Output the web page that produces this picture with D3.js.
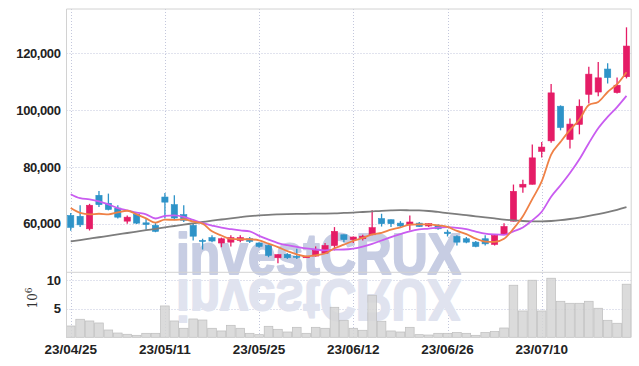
<!DOCTYPE html>
<html>
<head>
<meta charset="utf-8">
<script src="https://cdn.jsdelivr.net/npm/d3@7"></script>
<style>
  body { margin: 0; background: #fff; }
  svg { display: block; }
</style>
</head>
<body>
<div id="chart"></div>
<script>
// trading days shown on the chart
const dates = [
  "2023-04-25","2023-04-26","2023-04-27","2023-04-28","2023-05-02","2023-05-03","2023-05-04","2023-05-08","2023-05-09","2023-05-10",
  "2023-05-11","2023-05-12","2023-05-15","2023-05-16","2023-05-17","2023-05-18","2023-05-19","2023-05-22","2023-05-23","2023-05-24",
  "2023-05-25","2023-05-26","2023-05-30","2023-05-31","2023-06-01","2023-06-02","2023-06-05","2023-06-07","2023-06-08","2023-06-09",
  "2023-06-12","2023-06-13","2023-06-14","2023-06-15","2023-06-16","2023-06-19","2023-06-20","2023-06-21","2023-06-22","2023-06-23",
  "2023-06-26","2023-06-27","2023-06-28","2023-06-29","2023-06-30","2023-07-03","2023-07-04","2023-07-05","2023-07-06","2023-07-07",
  "2023-07-10","2023-07-11","2023-07-12","2023-07-13","2023-07-14","2023-07-17","2023-07-18","2023-07-19","2023-07-20","2023-07-21"
];
const open = [
  62900,62600,58200,70000,67200,65500,60900,63300,60300,59400,
  69400,66700,63200,59400,54100,55100,53200,53500,54100,54700,
  53200,52300,48000,49200,48500,48000,48600,49600,52300,56100,
  54400,54700,56100,61800,61400,60200,59600,60200,59200,59400,
  57000,55500,54700,53500,54700,52700,56200,60900,72900,73900,
  85500,89200,101400,89700,95000,105600,106400,114500,106200,111800
];
const high = [
  63800,66500,67000,71500,70600,66500,62900,63500,61800,60200,
  70800,70000,66500,60000,54700,55900,55100,55900,55900,55300,
  53500,52700,49200,49600,51200,48700,52000,53200,58800,56200,
  55500,56100,64700,63500,61500,60900,62900,60600,60200,59800,
  57900,55900,55300,53900,55900,56100,60200,73800,75500,87900,
  88800,109200,101700,97100,103800,115300,117000,116500,111500,129200
];
const low = [
  57500,58800,57600,65900,64700,61800,60000,59900,57900,57000,
  61800,61200,60600,54100,50900,53500,51700,52000,53500,53200,
  51500,48200,46100,47600,47600,47900,48400,49300,50600,53500,
  53200,54100,55900,59000,58800,58800,57600,58800,58800,57900,
  55500,52300,53100,51700,52300,52300,56100,60800,70900,73800,
  83300,88500,92900,86500,91500,102400,104900,109400,105900,111200
];
const close = [
  58700,59600,66500,66700,65000,62300,62300,60200,59700,57300,
  67600,62000,61200,55600,53800,53900,54700,55100,55100,53800,
  52000,48800,49100,48000,48200,48400,50600,52300,57300,54400,
  55300,55600,58600,60000,60000,59200,60600,59000,60000,58200,
  56500,53500,53500,52000,52900,55900,59000,71400,73900,83200,
  87000,106100,93900,95100,101400,112700,111400,111500,108800,122600
];
// volume in millions of shares
const volume = [
  1.98,3.16,2.86,2.51,1.28,0.75,0.53,0.35,0.70,0.70,
  5.49,2.86,1.58,3.21,3.03,1.58,1.11,2.10,1.58,0.70,
  0.46,1.93,1.40,0.93,1.75,0.70,1.75,1.58,5.26,2.98,
  1.58,1.23,7.37,2.81,1.11,0.93,1.75,0.46,0.40,0.70,
  0.70,0.82,0.70,0.35,0.82,1.00,1.63,9.12,4.61,10.00,
  4.61,10.35,6.31,5.96,5.96,6.31,5.09,2.98,2.46,9.30
];
// moving average values before enough closes exist in the window
const ma5Lead = [65500,63800,63300,63500];
const ma10Lead = [70400,69000,68600,67900,66800,65500,64700,63900,63300];
// long moving average (needs history before the window)
const maLong = [
  53750,54250,54740,55230,55730,56220,56720,57210,57700,58200,
  58690,59190,59680,60140,60600,61060,61480,61910,62290,62650,
  62930,63140,63280,63390,63460,63490,63530,63570,63640,63780,
  63920,64130,64340,64550,64690,64770,64730,64690,64480,64130,
  63740,63390,63000,62610,62220,61840,61450,61160,60950,60850,
  60810,60950,61240,61660,62150,62720,63350,64060,64870,65820
];
const priceTicks = [60000, 80000, 100000, 120000];
const volTicks = [5, 10];
const labelEvery = 10;

const width = 639, height = 366;
const plotL = 66.5, plotR = 631.2, plotT = 9, split = 272.3, plotB = 337.3;
const upColor = "#e51c66", downColor = "#2e93c8";
const gridColor = "#c3c7dc", frameColor = "#d2d2d2";
const font = "'Liberation Sans', Arial, sans-serif";

const svg = d3.select("#chart").append("svg")
    .attr("width", width)
    .attr("height", height);

const idx = d3.range(dates.length);
const x = d3.scaleBand().domain(idx).range([66, plotR]).padding(0);
const bw = x.bandwidth();
const cx = i => x(i) + bw / 2;

const y = d3.scaleLinear()
    .domain([d3.min(low) * 0.93, d3.max(high) * 1.05])
    .range([split, plotT]);
const yv = d3.scaleLinear()
    .domain([0, d3.max(volume) * 1.1])
    .range([plotB, split]);

function movingAvg(n, lead) {
  return close.map((c, i) => i < n - 1 ? lead[i] : d3.mean(close.slice(i - n + 1, i + 1)));
}
const ma5 = movingAvg(5, ma5Lead);
const ma10 = movingAvg(10, ma10Lead);

// grid
const labelIdx = idx.filter(i => i % labelEvery === 0);
const grid = svg.append("g")
    .attr("stroke", gridColor)
    .attr("stroke-dasharray", "1,2")
    .attr("fill", "none");
grid.selectAll(".hp").data(priceTicks).enter().append("line")
    .attr("x1", plotL).attr("x2", plotR)
    .attr("y1", d => Math.round(y(d)) + 0.5).attr("y2", d => Math.round(y(d)) + 0.5);
grid.selectAll(".hv").data(volTicks).enter().append("line")
    .attr("x1", plotL).attr("x2", plotR)
    .attr("y1", d => Math.round(yv(d)) + 0.5).attr("y2", d => Math.round(yv(d)) + 0.5);
grid.selectAll(".vv").data(labelIdx).enter().append("line")
    .attr("x1", d => Math.round(cx(d)) + 0.5).attr("x2", d => Math.round(cx(d)) + 0.5)
    .attr("y1", plotT).attr("y2", plotB);

// watermark and its reflection
const wm = svg.append("g")
    .attr("font-family", font)
    .attr("font-weight", "bold")
    .attr("font-size", 58)
    .attr("stroke-width", 2)
    .attr("stroke-linejoin", "round");
wm.append("text")
    .attr("x", 176).attr("y", 274)
    .attr("textLength", 285).attr("lengthAdjust", "spacingAndGlyphs")
    .attr("fill", "#c7cde3").attr("stroke", "#c7cde3")
    .text("investCRUX");
wm.append("text")
    .attr("x", 176).attr("y", -280)
    .attr("transform", "scale(1,-1)")
    .attr("textLength", 285).attr("lengthAdjust", "spacingAndGlyphs")
    .attr("fill", "#e0e3ef").attr("stroke", "#e0e3ef")
    .text("investCRUX");

// volume bars
svg.append("g")
    .selectAll("rect")
    .data(volume)
    .enter()
    .append("rect")
    .attr("x", (d, i) => x(i) + 0.4)
    .attr("y", d => yv(d))
    .attr("width", bw - 0.8)
    .attr("height", d => yv(0) - yv(d))
    .attr("fill", "#d5d5d5")
    .attr("fill-opacity", 0.85)
    .attr("stroke", "#bdbdbd")
    .attr("stroke-width", 0.7);

// frame
const frame = svg.append("g").attr("stroke", frameColor).attr("fill", "none");
frame.append("line").attr("x1", plotL).attr("x2", plotR).attr("y1", plotT).attr("y2", plotT);
frame.append("line").attr("x1", plotL).attr("x2", plotL).attr("y1", plotT).attr("y2", plotB);
frame.append("line").attr("x1", plotR).attr("x2", plotR).attr("y1", plotT).attr("y2", plotB);
frame.append("line").attr("x1", plotL).attr("x2", plotR).attr("y1", split).attr("y2", split);

// candles
const candles = svg.append("g")
    .selectAll("g")
    .data(idx)
    .enter()
    .append("g")
    .attr("fill", i => close[i] >= open[i] ? upColor : downColor)
    .attr("stroke", i => close[i] >= open[i] ? upColor : downColor);
candles.append("line")
    .attr("x1", cx).attr("x2", cx)
    .attr("y1", i => y(high[i])).attr("y2", i => y(low[i]))
    .attr("stroke-width", 1.3);
candles.append("rect")
    .attr("x", i => cx(i) - bw * 0.33)
    .attr("width", bw * 0.66)
    .attr("y", i => y(Math.max(open[i], close[i])))
    .attr("height", i => Math.max(1, Math.abs(y(open[i]) - y(close[i]))))
    .attr("stroke-width", 0.6);

// moving average lines
const line = d3.line().x((d, i) => cx(i)).y(d => y(d)).curve(d3.curveMonotoneX);
[[maLong, "#7d7d7d"], [ma10, "#c95cf0"], [ma5, "#ef8146"]].forEach(([s, c]) => {
  svg.append("path")
      .datum(s)
      .attr("fill", "none")
      .attr("stroke", c)
      .attr("stroke-width", 1.8)
      .attr("d", line);
});

// axes
function styleAxis(size, spacing) {
  return g => {
    g.select(".domain").remove();
    g.selectAll("text")
        .attr("font-family", font)
        .attr("font-weight", "bold")
        .attr("font-size", size)
        .attr("letter-spacing", spacing)
        .attr("fill", "#222");
  };
}
svg.append("g")
    .attr("transform", `translate(${plotL},0)`)
    .call(d3.axisLeft(y).tickValues(priceTicks).tickFormat(d3.format(",")).tickSize(0).tickPadding(6))
    .call(styleAxis(13, -0.4));
svg.append("g")
    .attr("transform", `translate(${plotL},0)`)
    .call(d3.axisLeft(yv).tickValues(volTicks).tickFormat(d3.format("d")).tickSize(0).tickPadding(6))
    .call(styleAxis(13, -0.4));
const fmt = d3.timeFormat("%y/%m/%d"), parse = d3.timeParse("%Y-%m-%d");
svg.append("g")
    .attr("transform", `translate(0,${plotB})`)
    .call(d3.axisBottom(x).tickValues(labelIdx).tickFormat(i => fmt(parse(dates[i]))).tickSize(0).tickPadding(7))
    .call(styleAxis(13.5, 0));

// volume unit label
const unit = svg.append("text")
    .attr("transform", "translate(37,298) rotate(-90)")
    .attr("text-anchor", "middle")
    .attr("font-family", "'DejaVu Serif', serif")
    .attr("font-size", 12)
    .attr("fill", "#333");
unit.append("tspan").text("10");
unit.append("tspan").attr("dy", -5).attr("font-size", 9).text("6");
</script>
</body>
</html>
